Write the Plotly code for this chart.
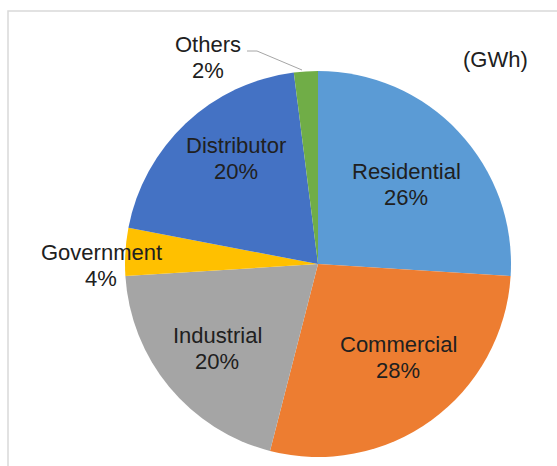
import plotly.graph_objects as go

# Electricity sales by customer class (share of GWh)
categories = ["Residential", "Commercial", "Industrial", "Government", "Distributor", "Others"]
shares = [26, 28, 20, 4, 20, 2]
colors = ["#5B9BD5", "#ED7D31", "#A5A5A5", "#FFC000", "#4472C4", "#70AD47"]
unit_label = "(GWh)"

W, H = 557, 466
FONT = "Liberation Sans, Arial, sans-serif"
FONT_SIZE = 22
TEXT_COLOR = "#202020"
LINE_GAP = 26  # pixels between the name line and the percent line

# Pie placement in pixels (centre and radius)
cx, cy, r = 318, 264, 193

# Label block centres in pixels, one per category
label_pos = {
    "Residential": (406, 184),
    "Commercial": (398, 357.5),
    "Industrial": (217, 348.5),
    "Government": (101, 265),
    "Distributor": (236, 158.5),
    "Others": (208, 57),
}


def px(x):
    return x / W


def py(y):
    return 1 - y / H


fig = go.Figure(
    go.Pie(
        labels=categories,
        values=shares,
        sort=False,
        direction="clockwise",
        rotation=0,
        marker=dict(colors=colors, line=dict(width=0)),
        textinfo="none",
        hoverinfo="label+percent",
        showlegend=False,
        domain=dict(x=[px(cx - r), px(cx + r)], y=[py(cy + r), py(cy - r)]),
    )
)


def text_ann(x, y, text):
    return dict(
        x=px(x), y=py(y), xref="paper", yref="paper",
        text=text, showarrow=False, xanchor="center", yanchor="middle",
        font=dict(family=FONT, size=FONT_SIZE, color=TEXT_COLOR),
    )


total = sum(shares)
annotations = []
for name, val in zip(categories, shares):
    x, y = label_pos[name]
    annotations.append(text_ann(x, y - LINE_GAP / 2, name))
    annotations.append(text_ann(x, y + LINE_GAP / 2, f"{round(val / total * 100)}%"))

annotations.append(text_ann(495, 60, unit_label))

shapes = [
    # chart frame
    dict(
        type="rect", xref="paper", yref="paper",
        x0=px(8), y0=py(11), x1=1.02, y1=-0.02,
        line=dict(color="#D9D9D9", width=1.5), fillcolor="rgba(0,0,0,0)", layer="below",
    ),
    # leader line for the small "Others" slice
    dict(
        type="path", xref="paper", yref="paper",
        path=f"M {px(247)},{py(51)} L {px(257)},{py(51)} L {px(302)},{py(70)}",
        line=dict(color="#A6A6A6", width=1),
    ),
]

fig.update_layout(
    width=W, height=H,
    margin=dict(l=0, r=0, t=0, b=0),
    paper_bgcolor="white",
    plot_bgcolor="white",
    annotations=annotations,
    shapes=shapes,
)

fig.write_html("out.html")
